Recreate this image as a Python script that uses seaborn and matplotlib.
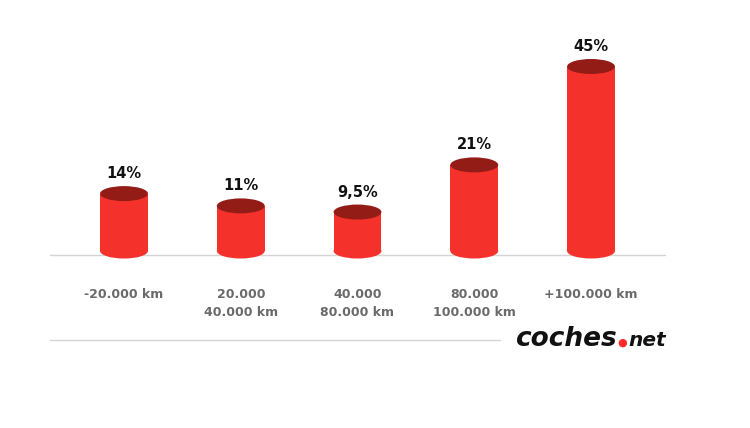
import matplotlib
matplotlib.use("Agg")
import matplotlib.pyplot as plt
from matplotlib.patches import Ellipse
import seaborn as sns
import pandas as pd

sns.set_style("white")
plt.rcParams["font.family"] = ["DejaVu Sans"]

# === Data ===
categories = ["-20.000 km", "20.000\n40.000 km", "40.000\n80.000 km", "80.000\n100.000 km", "+100.000 km"]
values = [14, 11, 9.5, 21, 45]
value_labels = ["14%", "11%", "9,5%", "21%", "45%"]

BAR_RED = "#f4322b"
TOP_RED = "#941c16"

df = pd.DataFrame({"rango": categories, "pct": values})

fig = plt.figure(figsize=(7.5, 4.28), dpi=100)
ax = fig.add_axes([0, 0, 1, 1])

bar_w = 0.41
sns.barplot(data=df, x="rango", y="pct", color=BAR_RED, width=bar_w,
            saturation=1, ax=ax, linewidth=0)

# pixel mapping: centre of first bar ~124px, 116.75px per bar, zero at y=251, 4.1px per %
px_per_x = 116.75
x0 = -124 / px_per_x
ax.set_xlim(x0, x0 + 750 / px_per_x)
px_per_y = 4.1
zero_px = 251
ax.set_ylim(-(428 - zero_px) / px_per_y, zero_px / px_per_y)
ax.axis("off")

ell_h = 15 / px_per_y
for i, v in enumerate(values):
    # bottom of cylinder
    ax.add_patch(Ellipse((i, 0), bar_w, ell_h, color=BAR_RED, lw=0, zorder=2))
    # top of cylinder
    ax.add_patch(Ellipse((i, v), bar_w, ell_h, color=TOP_RED, lw=0, zorder=4))
    ax.text(i, v + 20 / px_per_y, value_labels[i], ha="center", va="center",
            fontsize=10.5, fontweight="bold", color="#111111")
    ax.text(i, -(288 - zero_px) / px_per_y, categories[i], ha="center", va="top",
            fontsize=9, fontweight="bold", color="#6a6a6a", linespacing=1.5)

# baseline and lower separator
ax.plot([(50 / px_per_x) + x0, (665 / px_per_x) + x0], [-(255 - zero_px) / px_per_y] * 2,
        color="#d4d4d4", lw=1, zorder=1)
ax.plot([(50 / px_per_x) + x0, (500 / px_per_x) + x0], [-(340 - zero_px) / px_per_y] * 2,
        color="#d4d4d4", lw=1, zorder=1)

# logo
fig.text(515 / 750, 1 - 339 / 428, "coches", fontsize=19, fontweight="heavy",
         style="italic", color="#111111", va="center", ha="left")
fig.text(622 / 750, 1 - 343 / 428, "\u25cf", fontsize=8, color="#ff2a2a",
         va="center", ha="center")
fig.text(628 / 750, 1 - 340 / 428, "net", fontsize=14.5, fontweight="heavy",
         style="italic", color="#111111", va="center", ha="left")

fig.savefig("out.png", dpi=100)
